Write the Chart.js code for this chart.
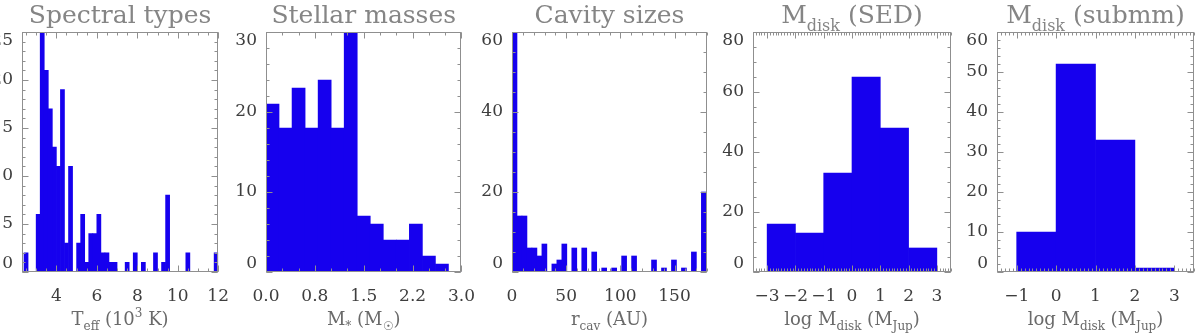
<!DOCTYPE html>
<html>
<head>
<meta charset="utf-8">
<script src="https://cdn.jsdelivr.net/npm/chart.js@4.4.0/dist/chart.umd.min.js"></script>
<style>
  html, body { margin: 0; padding: 0; background: #fff; }
  #wrap { position: relative; width: 1200px; height: 335px; overflow: hidden; }
  .panel { position: absolute; top: 0; height: 335px; }
</style>
</head>
<body>
<div id="wrap"></div>
<script>
// Spectral types: Teff histogram, bins of 200 K (centres in 10^3 K)
var teffBins = [2.5, 2.7, 2.9, 3.1, 3.3, 3.5, 3.7, 3.9, 4.1, 4.3, 4.5, 4.7, 4.9, 5.1, 5.3, 5.5,
    5.7, 5.9, 6.1, 6.3, 6.5, 6.7, 6.9, 7.1, 7.3, 7.5, 7.7, 7.9, 8.1, 8.3, 8.5, 8.7, 8.9, 9.1,
    9.3, 9.5, 9.7, 9.9, 10.1, 10.3, 10.5, 10.7, 10.9, 11.1, 11.3, 11.5, 11.7, 11.9];
var teffCounts = [2, 0, 0, 6, 25, 21, 17, 13, 11, 19, 3, 11, 0, 3, 6, 1,
    4, 4, 6, 2, 2, 1, 1, 0, 0, 1, 0, 2, 0, 1, 0, 0, 2, 0,
    1, 8, 0, 0, 0, 0, 2, 0, 0, 0, 0, 0, 0, 2];
var teffTicks = [4, 6, 8, 10, 12];
var teffCountTicks = [0, 5, 10, 15, 20, 25];

// Stellar masses, bins of 0.2 Msun
var massBins = [0.1, 0.3, 0.5, 0.7, 0.9, 1.1, 1.3, 1.5, 1.7, 1.9, 2.1, 2.3, 2.5, 2.7, 2.9];
var massCounts = [21, 18, 23, 18, 24, 18, 30, 7, 6, 4, 4, 6, 2, 1, 0];
var massTicks = [0, 0.75, 1.5, 2.25, 3.0];
var massTickLabels = ['0.0', '0.8', '1.5', '2.2', '3.0'];
var massCountTicks = [0, 10, 20, 30];

// Cavity sizes (AU)
var cavBins = [2.3, 6.9, 11.5, 16.1, 20.7, 25.3, 29.9, 34.5, 39.1, 43.7, 48.3, 52.9, 57.5,
    62.1, 66.7, 71.3, 75.9, 80.5, 85.1, 89.7, 94.3, 98.9, 103.5, 108.1, 112.7, 117.3, 121.9,
    126.5, 131.1, 135.7, 140.3, 144.9, 149.5, 154.1, 158.7, 163.3, 167.9, 172.5, 177.1];
var cavCounts = [60, 14, 14, 6, 6, 4, 7, 0, 2, 3, 7, 0, 6,
    0, 6, 0, 5, 0, 1, 0, 1, 0, 4, 0, 4, 0, 0,
    0, 3, 0, 1, 0, 3, 0, 1, 0, 5, 0, 20];
var cavTicks = [0, 50, 100, 150];
var cavCountTicks = [0, 20, 40, 60];

// Disk masses from SED fits, log Mdisk (MJup)
var sedBins = [-2.5, -1.5, -0.5, 0.5, 1.5, 2.5];
var sedCounts = [16, 13, 33, 65, 48, 8];
var sedTicks = [-3, -2, -1, 0, 1, 2, 3];
var sedCountTicks = [0, 20, 40, 60, 80];

// Disk masses from submm fluxes
var submmBins = [-0.5, 0.5, 1.5, 2.5];
var submmCounts = [10, 52, 33, 1];
var submmTicks = [-1, 0, 1, 2, 3];
var submmCountTicks = [0, 10, 20, 30, 40, 50, 60];

var BAR = 'rgb(22, 0, 238)';
var AXIS = '#8f8f8f';
var TITLE_COL = '#858585';
var LABEL_COL = '#6a6a6a';
var TICK_COL = '#3e3e3e';
var FONT = '"DejaVu Serif", serif';

function fmtNum(v) {
    return v < 0 ? '\u2212' + Math.abs(v) : String(v);
}

var panels = [
    { left: 22, right: 219, bins: teffBins, counts: teffCounts, xMin: 2.3, xMax: 12.0,
      xTicks: teffTicks, xLabels: teffTicks.map(fmtNum), xMinor: 0.5,
      yMax: 25, yTicks: teffCountTicks, yMinor: 1,
      title: [['Spectral types', '']],
      xTitle: [['T', ''], ['eff', 'sub'], [' (10', ''], ['3', 'sup'], [' K)', '']] },
    { left: 266, right: 465, bins: massBins, counts: massCounts, xMin: 0, xMax: 3.0,
      xTicks: massTicks, xLabels: massTickLabels, xMinor: 0.25,
      yMax: 30, yTicks: massCountTicks, yMinor: 2,
      title: [['Stellar masses', '']],
      xTitle: [['M', ''], ['*', 'sub'], [' (M', ''], ['\u2609', 'sub'], [')', '']] },
    { left: 512, right: 707, bins: cavBins, counts: cavCounts, xMin: 0, xMax: 180,
      xTicks: cavTicks, xLabels: cavTicks.map(fmtNum), xMinor: 10,
      yMax: 60, yTicks: cavCountTicks, yMinor: 5,
      title: [['Cavity sizes', '']],
      xTitle: [['r', ''], ['cav', 'sub'], [' (AU)', '']] },
    { left: 753, right: 951, bins: sedBins, counts: sedCounts, xMin: -3.5, xMax: 3.5,
      xTicks: sedTicks, xLabels: sedTicks.map(fmtNum), xMinor: 0.1,
      yMax: 80, yTicks: sedCountTicks, yMinor: 5,
      title: [['M', ''], ['disk', 'sub'], [' (SED)', '']],
      xTitle: [['log M', ''], ['disk', 'sub'], [' (M', ''], ['Jup', 'sub'], [')', '']] },
    { left: 997, right: 1194, bins: submmBins, counts: submmCounts, xMin: -1.5, xMax: 3.5,
      xTicks: submmTicks, xLabels: submmTicks.map(fmtNum), xMinor: 0.1,
      yMax: 60, yTicks: submmCountTicks, yMinor: 2,
      title: [['M', ''], ['disk', 'sub'], [' (submm)', '']],
      xTitle: [['log M', ''], ['disk', 'sub'], [' (M', ''], ['Jup', 'sub'], [')', '']] }
];

var TOP = 32, BOTTOM = 272, YAXIS_W = 60, PAD_R = 24;

// text with sub/superscripts, centred on cx
function drawRich(ctx, segs, cx, y, size, color) {
    var parts = segs.map(function (s) {
        var fs = s[1] ? Math.round(size * 0.64) : size;
        ctx.font = fs + 'px ' + FONT;
        var dy = s[1] === 'sub' ? size * 0.3 : (s[1] === 'sup' ? -size * 0.42 : 0);
        return { t: s[0], fs: fs, w: ctx.measureText(s[0]).width, dy: dy };
    });
    var total = 0;
    parts.forEach(function (p) { total += p.w; });
    var x = cx - total / 2;
    ctx.fillStyle = color;
    ctx.textAlign = 'left';
    ctx.textBaseline = 'alphabetic';
    parts.forEach(function (p) {
        ctx.font = p.fs + 'px ' + FONT;
        ctx.fillText(p.t, x, y + p.dy);
        x += p.w;
    });
}

function minorValues(min, max, step) {
    var out = [];
    for (var k = Math.ceil(min / step - 1e-9); k * step <= max + 1e-9; k++) out.push(k * step);
    return out;
}

var idlFrame = {
    id: 'idlFrame',
    beforeDraw: function (chart) {
        // keep end labels of the y axis inside the frame
        var items = chart.scales.y.getLabelItems();
        if (items.length) {
            items[0].options.textBaseline = 'bottom';
            items[items.length - 1].options.textBaseline = 'top';
        }
    },
    afterDraw: function (chart) {
        var p = chart.options.plugins.idlFrame.panel;
        var ctx = chart.ctx, a = chart.chartArea;
        var xs = chart.scales.x, ys = chart.scales.y;
        ctx.save();
        ctx.strokeStyle = AXIS;
        ctx.lineWidth = 1;
        var l = Math.round(a.left) + 0.5, r = Math.round(a.right) - 0.5;
        var t = Math.round(a.top) + 0.5, b = Math.round(a.bottom) - 0.5;
        ctx.strokeRect(l, t, r - l, b - t);
        ctx.beginPath();
        function xTick(v, len) {
            var px = Math.round(xs.getPixelForValue(v)) + 0.5;
            ctx.moveTo(px, b); ctx.lineTo(px, b - len);
            ctx.moveTo(px, t); ctx.lineTo(px, t + len);
        }
        function yTick(v, len) {
            var py = Math.round(ys.getPixelForValue(v)) + 0.5;
            ctx.moveTo(l, py); ctx.lineTo(l + len, py);
            ctx.moveTo(r, py); ctx.lineTo(r - len, py);
        }
        minorValues(p.xMin, p.xMax, p.xMinor).forEach(function (v) { xTick(v, 3); });
        p.xTicks.forEach(function (v) { xTick(v, 6); });
        minorValues(0, p.yMax, p.yMinor).forEach(function (v) { yTick(v, 3); });
        p.yTicks.forEach(function (v) { yTick(v, 6); });
        ctx.stroke();

        var cx = (a.left + a.right) / 2;
        drawRich(ctx, p.title, cx, 23, 25, TITLE_COL);
        drawRich(ctx, p.xTitle, cx, 325, 18, LABEL_COL);
        ctx.restore();
    }
};

panels.forEach(function (p) {
    var div = document.createElement('div');
    div.className = 'panel';
    div.style.left = (p.left - YAXIS_W) + 'px';
    div.style.width = (p.right - p.left + YAXIS_W + PAD_R) + 'px';
    var canvas = document.createElement('canvas');
    div.appendChild(canvas);
    document.getElementById('wrap').appendChild(div);

    new Chart(canvas.getContext('2d'), {
        type: 'bar',
        data: {
            datasets: [{
                data: p.bins.map(function (b, i) { return { x: b, y: p.counts[i] }; }),
                backgroundColor: BAR,
                borderWidth: 0,
                barPercentage: 1.0,
                categoryPercentage: 1.0
            }]
        },
        options: {
            responsive: true,
            maintainAspectRatio: false,
            animation: false,
            events: [],
            layout: { autoPadding: false, padding: { left: 0, right: PAD_R, top: TOP, bottom: 0 } },
            plugins: {
                legend: { display: false },
                tooltip: { enabled: false },
                idlFrame: { panel: p }
            },
            scales: {
                x: {
                    type: 'linear',
                    offset: false,
                    min: p.xMin,
                    max: p.xMax,
                    grid: { display: false, drawTicks: false },
                    border: { display: false },
                    afterBuildTicks: function (scale) {
                        scale.ticks = p.xTicks.map(function (v) { return { value: v }; });
                    },
                    afterFit: function (scale) { scale.height = 335 - BOTTOM; },
                    ticks: {
                        autoSkip: false,
                        maxRotation: 0,
                        padding: 14,
                        color: TICK_COL,
                        font: { family: FONT, size: 17 },
                        callback: function (v, i) { return p.xLabels[i]; }
                    }
                },
                y: {
                    min: 0,
                    max: p.yMax,
                    grid: { display: false, drawTicks: false },
                    border: { display: false },
                    afterBuildTicks: function (scale) {
                        scale.ticks = p.yTicks.map(function (v) { return { value: v }; });
                    },
                    afterFit: function (scale) { scale.width = YAXIS_W; },
                    ticks: {
                        autoSkip: false,
                        padding: 9,
                        color: TICK_COL,
                        font: { family: FONT, size: 17 },
                        callback: function (v) { return String(v); }
                    }
                }
            }
        },
        plugins: [idlFrame]
    });
});
</script>
</body>
</html>
